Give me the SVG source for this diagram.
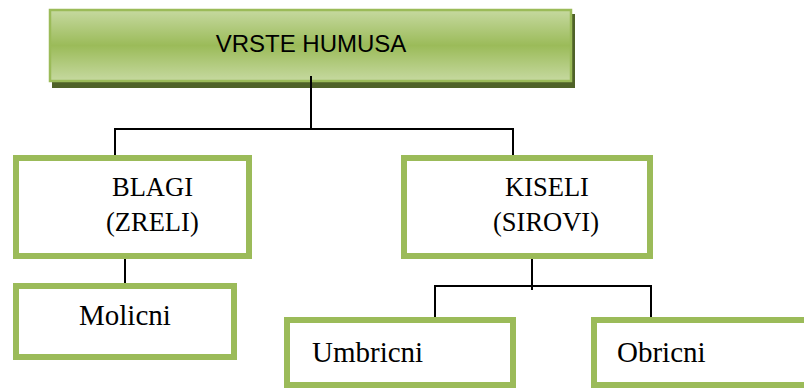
<svg xmlns="http://www.w3.org/2000/svg" width="804" height="388" viewBox="0 0 804 388">
<defs>
<linearGradient id="g" x1="0" y1="0" x2="0" y2="1">
<stop offset="0" stop-color="#C6D9A0"/>
<stop offset="0.5" stop-color="#9BBB59"/>
<stop offset="1" stop-color="#C6D9A0"/>
</linearGradient>
</defs>
<style>
.box{fill:#FFFFFF;stroke:#9BBB59;stroke-width:6}
.t{font-family:"Liberation Serif","Times New Roman",serif;fill:#000000}
.c{fill:none;stroke:#000000;stroke-width:2}
</style>
<rect width="804" height="388" fill="#FFFFFF"/>
<g id="root">
<rect x="52" y="14" width="523" height="74" fill="#4F6228"/>
<rect x="50" y="10" width="521" height="71" fill="url(#g)" stroke="#9BBB59" stroke-width="2.5"/>
<text x="311" y="52" text-anchor="middle" font-family="'Liberation Sans',Arial,sans-serif" font-size="24" fill="#000000">VRSTE HUMUSA</text>
</g>
<g id="connectors">
<path class="c" d="M311 76 V130 M115 129 H513 M115 128 V155 M513 128 V155"/>
<path class="c" d="M125 259 V283"/>
<path class="c" d="M532 259 V290 M435 286 H651 M435 285 V317 M651 285 V317"/>
</g>
<g id="blagi">
<rect class="box" x="16" y="158" width="233" height="98"/>
<text class="t" x="112" y="196" font-size="26.5">BLAGI</text>
<text class="t" x="106" y="231" font-size="26.5">(ZRELI)</text>
</g>
<g id="kiseli">
<rect class="box" x="404" y="158" width="246" height="98"/>
<text class="t" x="505" y="196" font-size="26.5">KISELI</text>
<text class="t" x="493" y="231" font-size="26.5">(SIROVI)</text>
</g>
<g id="molicni">
<rect class="box" x="16" y="286" width="218" height="71"/>
<text class="t" x="79" y="325" font-size="29">Molicni</text>
</g>
<g id="umbricni">
<rect class="box" x="287" y="320" width="226" height="65"/>
<text class="t" x="312" y="362" font-size="29">Umbricni</text>
</g>
<g id="obricni">
<rect class="box" x="594" y="320" width="230" height="65"/>
<text class="t" x="617" y="362" font-size="29">Obricni</text>
</g>
</svg>
